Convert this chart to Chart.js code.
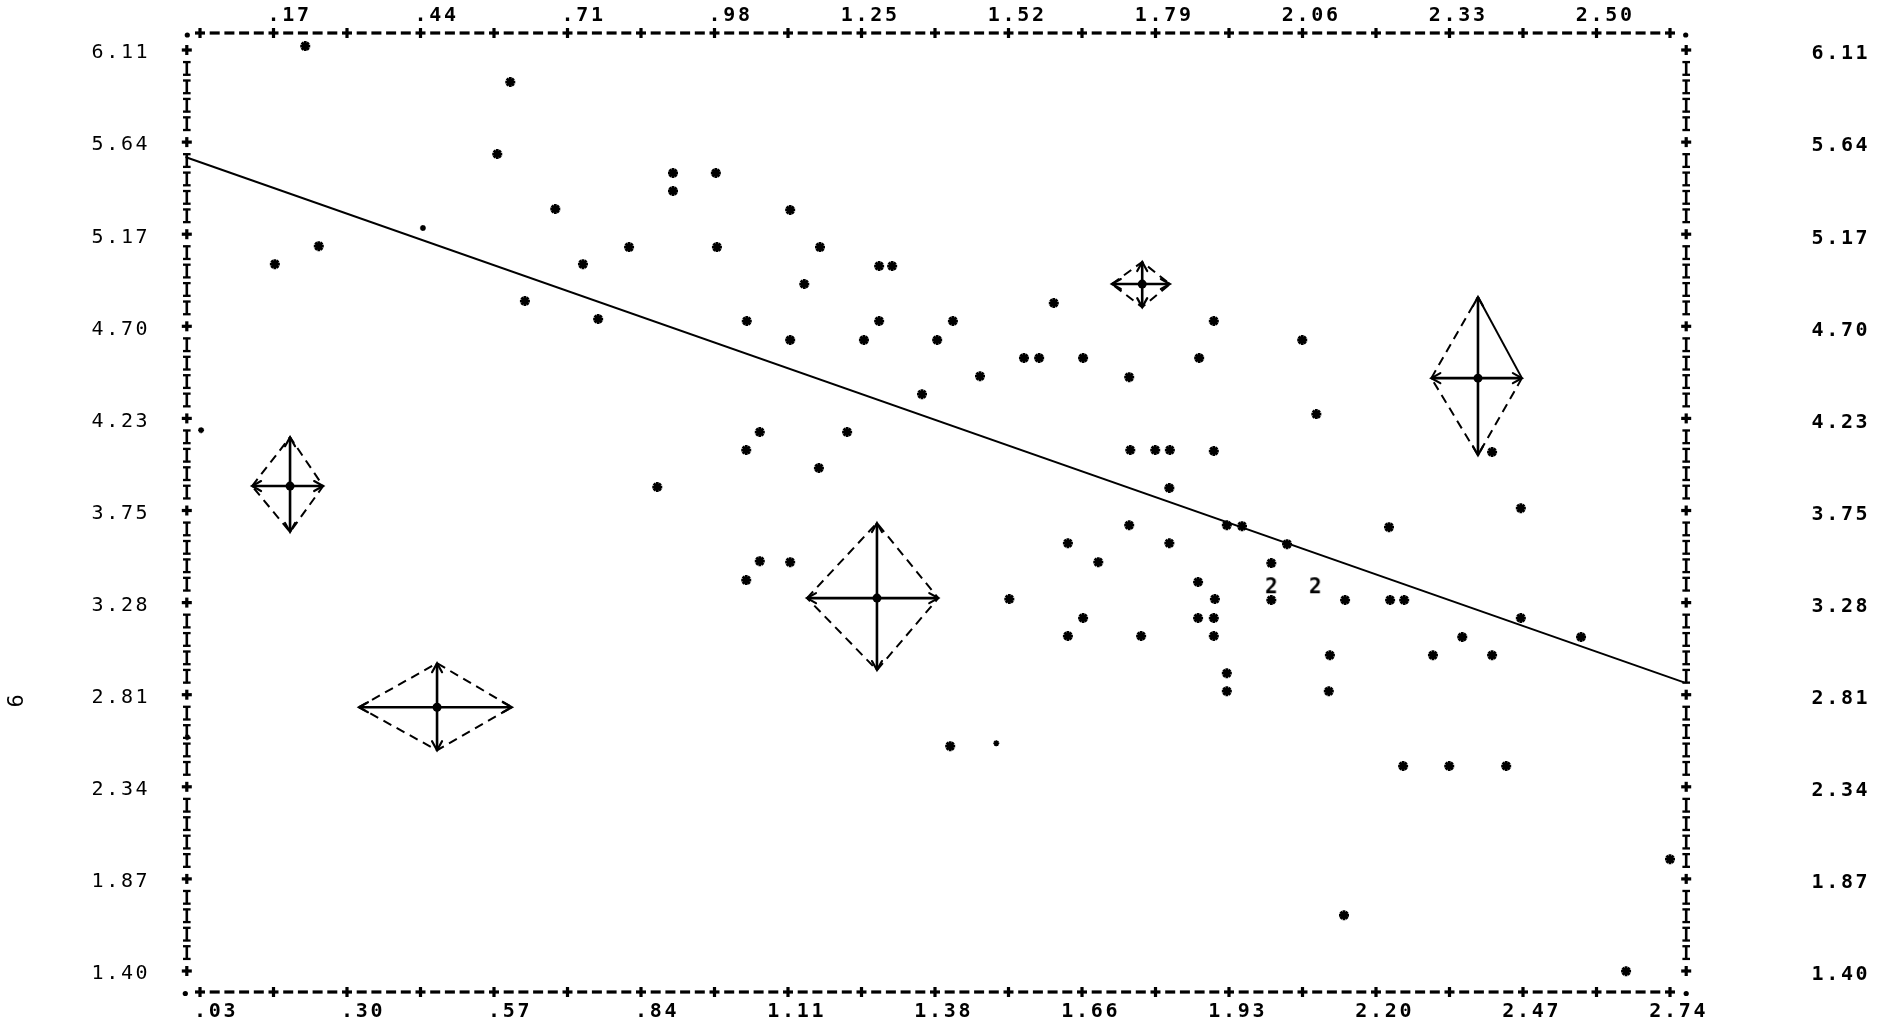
<!DOCTYPE html>
<html>
<head>
<meta charset="utf-8">
<style>
html,body{margin:0;padding:0;background:#fff;}
#wrap{width:1888px;height:1027px;position:relative;background:#fff;}
canvas{display:block;}
</style>
<script src="https://cdn.jsdelivr.net/npm/chart.js@4.4.1/dist/chart.umd.min.js"></script>
</head>
<body>
<div id="wrap"><canvas id="c" width="1888" height="1027"></canvas></div>
<script>
// ---------------- data ----------------
const pointX = [0.224,0.602,0.578,0.902,0.902,0.981,0.685,1.118,0.249,0.821,0.983,1.173,0.168,0.736,1.282,1.306,1.144,0.629,1.604,0.764,
  1.038,1.282,1.418,1.899,1.118,1.254,1.389,2.062,1.549,1.577,1.658,1.872,1.468,1.743,1.361,2.088,1.062,1.223,1.037,1.745,
  1.791,1.818,1.899,2.412,1.171,0.873,1.817,2.465,1.743,1.923,1.951,2.222,1.630,1.817,2.034,1.686,2.005,1.062,1.118,1.037,
  1.870,1.522,1.901,2.005,2.141,2.224,2.250,1.658,1.870,1.899,2.465,1.630,1.765,1.899,2.357,2.576,2.113,2.303,2.412,1.923,
  1.923,2.111,1.413,2.248,2.333,2.438,2.740,2.139,2.659];
const pointY = [6.130,5.946,5.578,5.481,5.389,5.481,5.297,5.292,5.107,5.102,5.102,5.102,5.015,5.015,5.005,5.005,4.913,4.826,4.816,4.734,
  4.724,4.724,4.724,4.724,4.627,4.627,4.627,4.627,4.535,4.535,4.535,4.535,4.442,4.437,4.350,4.248,4.156,4.156,4.064,4.064,
  4.064,4.064,4.059,4.054,3.972,3.875,3.870,3.767,3.680,3.680,3.675,3.670,3.588,3.588,3.583,3.491,3.486,3.496,3.491,3.399,
  3.389,3.302,3.302,3.297,3.297,3.297,3.297,3.205,3.205,3.205,3.205,3.113,3.113,3.113,3.108,3.108,3.015,3.015,3.015,2.923,
  2.831,2.831,2.550,2.448,2.448,2.448,1.972,1.685,1.399];
// lightly printed marks
const faintX = [0.441,0.032,1.498,0.006];
const faintY = [5.200,4.166,2.565,2.596];
// locations printed as "2" (two coincident observations)
const doubleX = [2.005,2.086];
const doubleY = [3.373,3.373];
const doubleText = ["2","2"];
// fitted line
const fitX = [0.0029,2.7671];
const fitY = [5.563,2.875];
// mean / spread glyphs
const glyphX     = [0.196,0.467,1.278,1.767,2.386];
const glyphY     = [3.880,2.749,3.307,4.913,4.432];
const glyphXLow  = [0.126,0.323,1.149,1.711,2.300];
const glyphXHigh = [0.257,0.605,1.391,1.818,2.467];
const glyphYLow  = [3.645,2.529,2.939,4.795,4.038];
const glyphYHigh = [4.130,2.974,3.691,5.026,4.847];
// tick labels
const bottomLabels = [".03",".30",".57",".84","1.11","1.38","1.66","1.93","2.20","2.47","2.74"];
const topLabels = [".17",".44",".71",".98","1.25","1.52","1.79","2.06","2.33","2.50"];
const yLabels = ["6.11","5.64","5.17","4.70","4.23","3.75","3.28","2.81","2.34","1.87","1.40"];
const yTitle = "6";

// axis geometry (printer grid)
const X_FIRST = 0.03, X_STEP = 0.271;
const Y_FIRST = 6.11, Y_STEP = 0.471;
const X_MIN = X_FIRST - X_STEP/10, X_MAX = X_FIRST + 10*X_STEP + X_STEP/10;
const Y_MAX = 6.197, Y_MIN = 1.2926;

// ---------------- helpers ----------------
const xy = (xa, ya) => xa.map((v,i)=>({x:v, y:ya[i]}));
function textMark(t){
  const cv = document.createElement('canvas');
  cv.width = 18; cv.height = 22;
  const c = cv.getContext('2d');
  c.fillStyle = '#000';
  c.font = 'bold 21px "DejaVu Sans Mono"';
  c.textAlign = 'center'; c.textBaseline = 'alphabetic';
  c.fillText(t, 9, 18.5);
  return cv;
}

const datasets = [];
datasets.push({label:'fit', data:xy(fitX,fitY), showLine:true, borderColor:'#000', borderWidth:2, pointRadius:0, order:5});
datasets.push({label:'points', data:xy(pointX,pointY), pointStyle:'star', pointRadius:5, borderColor:'#000', backgroundColor:'#000', borderWidth:2.8, showLine:false});
datasets.push({label:'faint', data:xy(faintX,faintY), pointStyle:'star', pointRadius:3, borderColor:'#000', backgroundColor:'#000', borderWidth:1.6, showLine:false});
datasets.push({label:'double', data:xy(doubleX,doubleY), pointStyle:doubleText.map(textMark), pointRadius:8, showLine:false});

const DASH = [9,6];
glyphX.forEach((cx,g)=>{
  const cy = glyphY[g];
  const ds = {
    label:'diamond'+g,
    data:[{x:glyphXLow[g],y:cy},{x:cx,y:glyphYHigh[g]},{x:glyphXHigh[g],y:cy},{x:cx,y:glyphYLow[g]},{x:glyphXLow[g],y:cy}],
    showLine:true, borderColor:'#000', borderWidth:2, borderDash:DASH, pointRadius:0
  };
  if (g === 4) ds.segment = {borderDash: c => c.p0DataIndex === 1 ? [] : DASH};
  datasets.push(ds);
  datasets.push({label:'h'+g, data:[{x:glyphXLow[g],y:cy},{x:glyphXHigh[g],y:cy}], showLine:true, borderColor:'#000', borderWidth:2.6, pointRadius:0});
  datasets.push({label:'v'+g, data:[{x:cx,y:glyphYLow[g]},{x:cx,y:glyphYHigh[g]}], showLine:true, borderColor:'#000', borderWidth:2.6, pointRadius:0});
  datasets.push({label:'c'+g, data:[{x:cx,y:cy}], pointStyle:'circle', pointRadius:4.5, backgroundColor:'#000', borderColor:'#000', borderWidth:0, showLine:false});
});

const CW = 14.7;
const printer = {
  id:'printer',
  afterDatasetsDraw(chart){
    const ctx = chart.ctx, xs = chart.scales.x, ys = chart.scales.y, a = chart.chartArea;
    ctx.save();
    ctx.fillStyle = '#000'; ctx.strokeStyle = '#000';
    const plus = (px,py)=>{ctx.fillRect(px-5,py-1.6,10,3.2);ctx.fillRect(px-1.6,py-5,3.2,10);};
    const dash = (px,py)=>{ctx.fillRect(px-5,py-1.6,10,3.2);};
    const bar  = (px,py)=>{ctx.fillRect(px-1.3,py-7,2.6,14);ctx.fillRect(px-3.8,py-7.5,7.6,2.3);ctx.fillRect(px-3.8,py+5.2,7.6,2.3);};
    const dot  = (px,py)=>{ctx.beginPath();ctx.arc(px,py,2.6,0,Math.PI*2);ctx.fill();};
    // horizontal frame lines
    [a.top, a.bottom].forEach(py=>{
      for (let j=0;j<=100;j++){
        const px = xs.getPixelForValue(X_FIRST + j*X_STEP/10);
        (j%5===0 ? plus : dash)(px, py);
      }
    });
    // vertical frame lines
    [a.left+1.5, a.right+1.5].forEach(px=>{
      for (let r=0;r<=50;r++){
        const py = ys.getPixelForValue(Y_FIRST - r*Y_STEP/5);
        (r%5===0 ? plus : bar)(px, py);
      }
    });
    dot(a.left+2, a.top+2); dot(a.right+1, a.top+2);
    dot(a.left, a.bottom+1.5); dot(a.right+1.5, a.bottom+1.5);

    // labels
    ctx.textAlign = 'center'; ctx.textBaseline = 'alphabetic';
    const put = (s, ax, cy, ai, weight) => {
      ctx.font = weight + ' 20px "DejaVu Sans Mono"';
      for (let i=0;i<s.length;i++) ctx.fillText(s[i], ax + (i-ai)*CW, cy + 7.3);
    };
    bottomLabels.forEach((s,i)=>{
      const px = xs.getPixelForValue(X_FIRST + i*X_STEP);
      put(s, px, 1010, s.indexOf('.'), 'bold');
    });
    topLabels.forEach((s,i)=>{
      const px = xs.getPixelForValue(X_FIRST + (i+0.5)*X_STEP);
      put(s, px, 14, s.indexOf('.'), 'bold');
    });
    yLabels.forEach((s,i)=>{
      const py = ys.getPixelForValue(Y_FIRST - i*Y_STEP);
      put(s, 97.5, py+1, 0, 'normal');
      put(s, 1817.5, py+2, 0, 'bold');
    });
    // axis title
    ctx.save();
    ctx.translate(17, 701);
    ctx.rotate(-Math.PI/2);
    ctx.font = '22px "DejaVu Sans Mono"';
    ctx.textBaseline = 'middle';
    ctx.fillText(yTitle, 0, 0);
    ctx.restore();

    // arrowheads on glyph bars
    ctx.lineWidth = 2.2; ctx.lineCap = 'round';
    glyphX.forEach((cx,g)=>{
      const cxp = xs.getPixelForValue(cx), cyp = ys.getPixelForValue(glyphY[g]);
      const ends = [
        [xs.getPixelForValue(glyphXLow[g]), cyp, -1, 0],
        [xs.getPixelForValue(glyphXHigh[g]), cyp, 1, 0],
        [cxp, ys.getPixelForValue(glyphYHigh[g]), 0, -1],
        [cxp, ys.getPixelForValue(glyphYLow[g]), 0, 1]
      ];
      ends.forEach(([tx,ty,dx,dy])=>{
        const L = 9, W = 5, qx = -dy, qy = dx;
        ctx.beginPath();
        ctx.moveTo(tx - L*dx + W*qx, ty - L*dy + W*qy);
        ctx.lineTo(tx, ty);
        ctx.lineTo(tx - L*dx - W*qx, ty - L*dy - W*qy);
        ctx.stroke();
      });
    });
    ctx.restore();
  }
};

new Chart(document.getElementById('c'), {
  type:'scatter',
  data:{datasets},
  options:{
    responsive:false,
    animation:false,
    devicePixelRatio:1,
    events:[],
    layout:{padding:{left:185.3, right:1888-1684.7, top:33, bottom:35}},
    plugins:{legend:{display:false}, tooltip:{enabled:false}},
    scales:{
      x:{type:'linear', min:X_MIN, max:X_MAX, display:false},
      y:{type:'linear', min:Y_MIN, max:Y_MAX, display:false}
    },
    elements:{line:{tension:0}}
  },
  plugins:[printer]
});
</script>
</body>
</html>
